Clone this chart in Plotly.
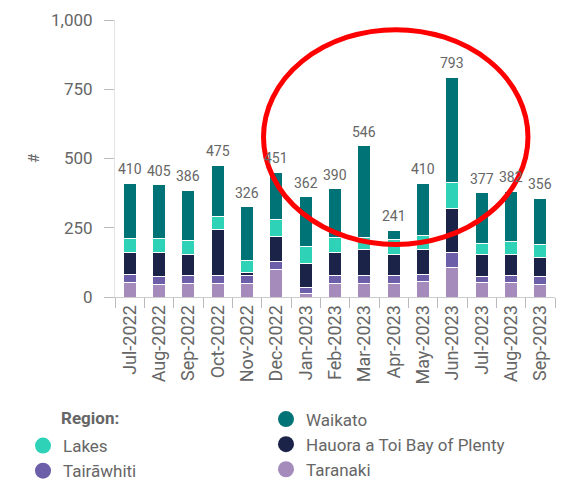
import plotly.graph_objects as go

months = ["Jul-2022", "Aug-2022", "Sep-2022", "Oct-2022", "Nov-2022", "Dec-2022",
          "Jan-2023", "Feb-2023", "Mar-2023", "Apr-2023", "May-2023", "Jun-2023",
          "Jul-2023", "Aug-2023", "Sep-2023"]

taranaki   = [54, 44, 49, 49, 49, 101, 11, 49, 49, 49, 55, 106, 52, 52, 46]
tairawhiti = [28, 31, 28, 28, 28, 26, 23, 27, 28, 28, 28, 55, 23, 25, 27]
bop        = [78, 85, 78, 166, 11, 93, 87, 84, 93, 78, 87, 160, 77, 75, 69]
lakes      = [52, 51, 48, 47, 45, 58, 60, 54, 45, 53, 53, 93, 42, 47, 47]
waikato    = [198, 194, 183, 185, 193, 173, 181, 176, 331, 33, 187, 379, 183, 183, 167]

series = [
    ("Taranaki", taranaki, "#a58bbb"),
    ("Tairāwhiti", tairawhiti, "#6c5ea8"),
    ("Hauora a Toi Bay of Plenty", bop, "#1c2348"),
    ("Lakes", lakes, "#2ed3b7"),
    ("Waikato", waikato, "#007377"),
]
colors = {name: c for name, _, c in series}

totals = [sum(v) for v in zip(taranaki, tairawhiti, bop, lakes, waikato)]

FONT = "Roboto"
GRAY = "#666666"
W, H = 565, 481

fig = go.Figure()
for name, vals, col in series:
    fig.add_trace(go.Bar(
        x=months, y=vals, name=name, showlegend=False,
        marker=dict(color=col, line=dict(color="white", width=1)),
        hoverinfo="x+y+name",
    ))

# total labels above each stacked bar
for m, t in zip(months, totals):
    fig.add_annotation(x=m, y=t, text=str(t), showarrow=False, yanchor="bottom",
                       yshift=4, font=dict(family=FONT, size=14, color=GRAY))

# legend-only entries (circle symbols)
legend_layout = [
    ("Lakes", "legend"), ("Tairāwhiti", "legend"),
    ("Waikato", "legend2"), ("Hauora a Toi Bay of Plenty", "legend2"), ("Taranaki", "legend2"),
]
for name, lg in legend_layout:
    fig.add_trace(go.Scatter(
        x=[None], y=[None], mode="markers", name=name, legend=lg, legendgroup=name,
        marker=dict(symbol="circle", size=16, color=colors[name]),
    ))

fig.add_shape(type="circle", xref="paper", yref="paper",
              x0=0.3375, x1=0.9386, y0=0.1895, y1=0.965,
              line=dict(color="#ff0000", width=5), layer="above")

fig.add_annotation(text="<b>Region:</b>", xref="paper", yref="paper",
                   x=(59 - 115) / 440, y=(297 - 418) / 277, xanchor="left", yanchor="middle",
                   showarrow=False, font=dict(family=FONT, size=17, color=GRAY))

fig.add_annotation(text="#", xref="paper", yref="paper", textangle=-90,
                   x=(34 - 115) / 440, y=(297 - 158) / 277, xanchor="center", yanchor="middle",
                   showarrow=False, font=dict(family=FONT, size=15, color=GRAY))

leg_common = dict(xanchor="left", yanchor="top", xref="container", yref="container",
                  font=dict(family=FONT, size=17, color=GRAY), bgcolor="rgba(0,0,0,0)",
                  tracegroupgap=3.5, traceorder="normal")

fig.update_layout(
    width=W, height=H,
    margin=dict(l=115, r=10, t=20, b=184, autoexpand=False),
    paper_bgcolor="white", plot_bgcolor="white",
    barmode="stack", bargap=0.56,
    font=dict(family=FONT, color=GRAY),
    legend=dict(x=23 / W, y=1 - 428 / H, **leg_common),
    legend2=dict(x=266 / W, y=1 - 401.5 / H, **leg_common),
    xaxis=dict(
        type="category", tickangle=-90, tickson="boundaries", ticks="outside",
        ticklen=10, tickcolor="#bbbbbb", showline=True, linecolor="#cccccc",
        showgrid=False, tickfont=dict(family=FONT, size=18, color=GRAY),
    ),
    yaxis=dict(
        range=[0, 1000], tickvals=[0, 250, 500, 750, 1000], tickformat=",",
        ticks="outside", ticklen=10, tickcolor="#bbbbbb", showline=True,
        linecolor="#e3e3e3", showgrid=False, zeroline=False,
        tickfont=dict(family=FONT, size=17, color=GRAY), ticklabelstandoff=8,
    ),
)

fig.write_html("out.html", config={"displayModeBar": False},
               post_script="document.body.style.margin='0';")
